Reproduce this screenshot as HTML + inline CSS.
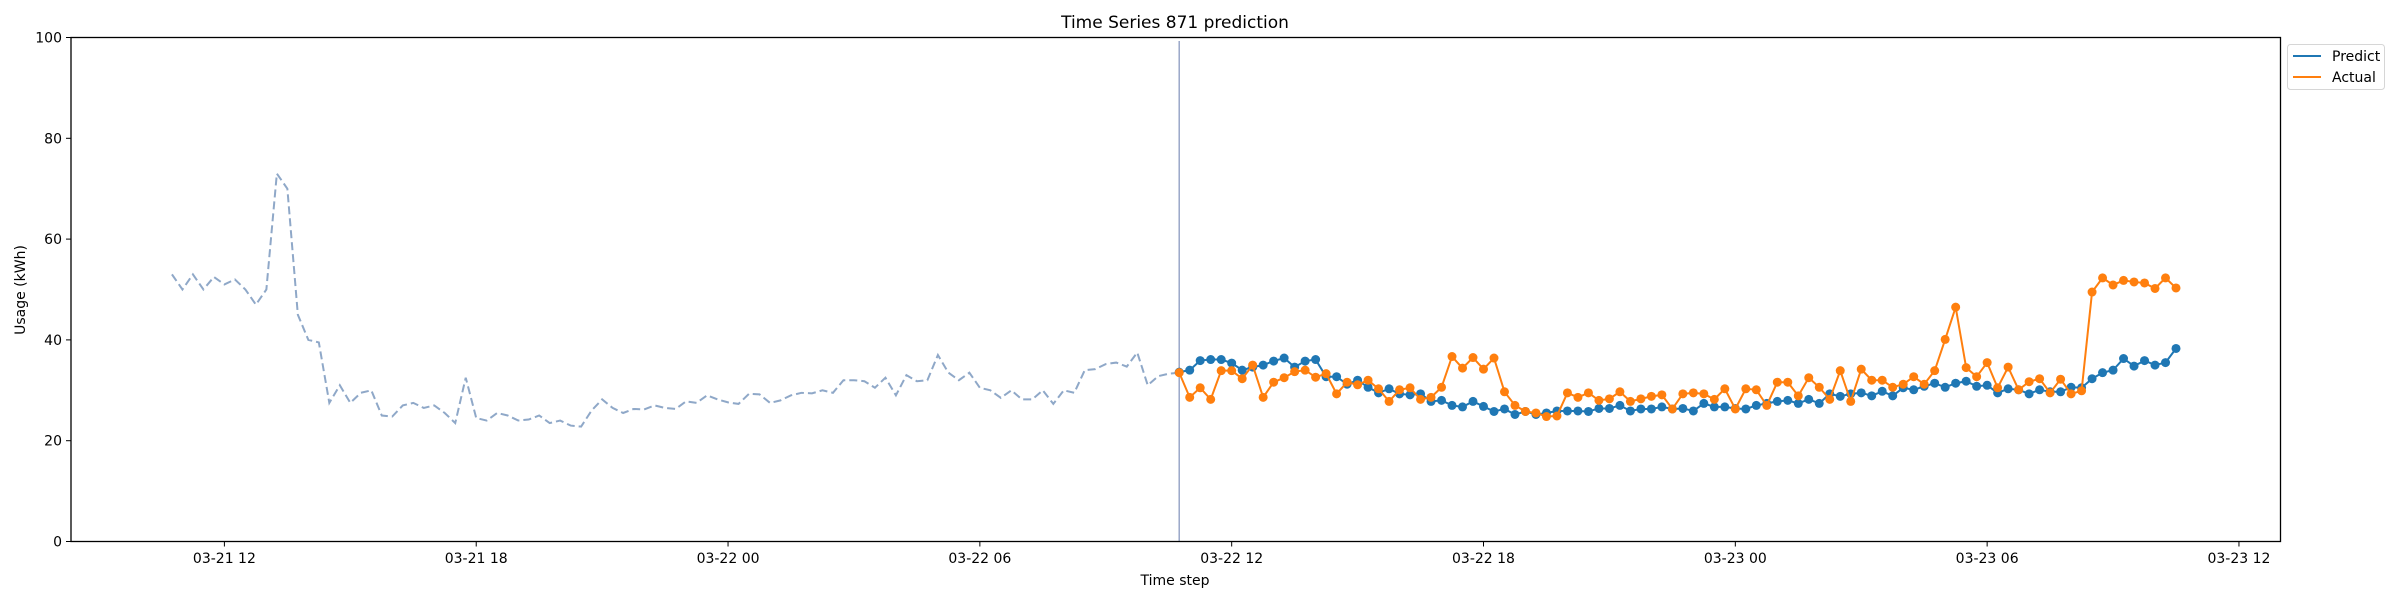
<!DOCTYPE html>
<html><head><meta charset="utf-8"><style>
html,body{margin:0;padding:0;background:#fff;}
svg text{font-family:"DejaVu Sans","Liberation Sans",sans-serif;fill:#000;}
</style></head><body>
<svg id="chart" width="2400" height="600" xmlns="http://www.w3.org/2000/svg">
<rect width="2400" height="600" fill="#fff"/>
<text x="1175" y="28" font-size="17" text-anchor="middle">Time Series 871 prediction</text>
<g id="plot"></g>
<g id="axes"></g>
<text x="1175" y="585" font-size="14" text-anchor="middle">Time step</text>
<text x="25" y="290" font-size="14" text-anchor="middle" transform="rotate(-90 25 290)">Usage (kWh)</text>
<g>
<rect x="2287.5" y="44.5" width="97" height="45" rx="3" fill="#fff" stroke="#d6d6d6"/>
<line x1="2293" y1="56" x2="2321" y2="56" stroke="#1f77b4" stroke-width="2"/>
<text x="2332" y="61" font-size="14">Predict</text>
<line x1="2293" y1="77" x2="2321" y2="77" stroke="#ff7f0e" stroke-width="2"/>
<text x="2332" y="82" font-size="14">Actual</text>
</g>
</svg>
<script>
// hours relative to 03-21 12:00
const historyStartHour = -1.25;
const forecastStartHour = 22.75;
const stepHours = 0.25;
const historyValues = [53,50,53,50,52.5,51,52,50,47,50,73,70,45,40,39.5,27.5,31,27.5,29.5,30,25,24.8,27,27.5,26.5,27,25.5,23.5,32.5,24.5,24,25.5,25,24,24.2,25,23.5,24,23,22.8,26,28.2,26.5,25.5,26.3,26.2,27,26.5,26.3,27.8,27.5,29,28.2,27.6,27.3,29.3,29.2,27.5,28,29,29.5,29.4,30,29.5,32,32,31.8,30.5,32.5,29,33,31.8,32,37,33.5,32,33.5,30.5,30,28.5,30,28.2,28.2,30,27.3,30,29.5,34,34.2,35.2,35.5,34.7,37.5,31,32.8,33.3];
const predictValues = [33.6,34,35.9,36.1,36.1,35.4,34,34.6,35,35.8,36.4,34.6,35.8,36.1,32.7,32.7,31.2,32,30.6,29.5,30.3,29.3,29.1,29.3,27.8,28,27,26.7,27.8,26.8,25.8,26.3,25.2,25.8,25.2,25.5,25.9,25.9,25.9,25.8,26.4,26.4,27,25.9,26.3,26.3,26.7,26.3,26.4,25.9,27.4,26.7,26.7,26.4,26.3,27,27.4,27.8,28,27.4,28.2,27.4,29.3,28.8,29.3,29.5,28.9,29.8,28.9,30.5,30.1,30.8,31.4,30.6,31.4,31.8,30.8,31,29.5,30.3,30.1,29.3,30.1,29.7,29.7,30.6,30.5,32.3,33.5,34,36.3,34.8,35.9,35,35.5,38.3];
const actualValues = [33.5,28.6,30.5,28.2,33.9,33.9,32.3,35,28.6,31.6,32.5,33.7,34,32.6,33.3,29.3,31.6,31.1,32,30.3,27.8,30.1,30.5,28.2,28.6,30.6,36.7,34.4,36.5,34.2,36.4,29.7,27,25.8,25.5,24.8,24.9,29.5,28.6,29.5,28,28.3,29.7,27.8,28.3,28.8,29.1,26.3,29.3,29.5,29.3,28.2,30.3,26.3,30.3,30.1,27,31.6,31.6,28.9,32.5,30.6,28.2,33.9,27.8,34.2,32,32,30.6,31.2,32.7,31.2,33.9,40.1,46.5,34.5,32.7,35.5,30.5,34.6,30.1,31.7,32.3,29.5,32.2,29.3,29.9,49.5,52.3,50.9,51.8,51.5,51.3,50.2,52.3,50.3];
const xTickLabels = ["03-21 12","03-21 18","03-22 00","03-22 06","03-22 12","03-22 18","03-23 00","03-23 06","03-23 12"];
const xTickHours = [0,6,12,18,24,30,36,42,48];
const yTickValues = [0,20,40,60,80,100];

const L=71,R=2280.5,T=37.5,B=541.5;
const xScale=h=>224.4+h*41.97;
const yScale=v=>B-(v/100)*(B-T);
const NS="http://www.w3.org/2000/svg";
const plot=document.getElementById('plot'), axes=document.getElementById('axes');
function mk(tag,attrs,parent){const e=document.createElementNS(NS,tag);for(const k in attrs)e.setAttribute(k,attrs[k]);parent.appendChild(e);return e;}

// forecast start line
const vl=mk('line',{x1:xScale(forecastStartHour),x2:xScale(forecastStartHour),y1:41,y2:B,stroke:'#9aa8c8','stroke-width':1.5},plot);



// history
const histPts=historyValues.map((v,i)=>[xScale(historyStartHour+i*stepHours),yScale(v)]);
histPts.push([xScale(forecastStartHour),yScale(actualValues[0])]);
const hl=mk('polyline',{points:histPts.map(p=>p.join(',')).join(' '),fill:'none',stroke:'#8fa8c8','stroke-width':2,'stroke-dasharray':'8,4'},plot);



function series(vals,color,name){
  const g=mk('g',{},plot);
  
  
  const pts=vals.map((v,i)=>[xScale(forecastStartHour+i*stepHours),yScale(v)]);
  mk('polyline',{points:pts.map(p=>p.join(',')).join(' '),fill:'none',stroke:color,'stroke-width':2},g);
  pts.forEach(p=>{
    const c=mk('circle',{cx:p[0],cy:p[1],r:4.5,fill:color},g);
    
    
  });
}
series(predictValues,'#1f77b4','predict');
series(actualValues,'#ff7f0e','actual');

// frame
const fr=mk('rect',{x:L,y:T,width:R-L,height:B-T,fill:'none',stroke:'#000','stroke-width':1.3},axes);


xTickHours.forEach((h,i)=>{
  const x=xScale(h);
  mk('line',{x1:x,x2:x,y1:B,y2:B+5,stroke:'#000','stroke-width':1},axes);
  const t=mk('text',{x:x,y:563,'font-size':14,'text-anchor':'middle'},axes);
  t.textContent=xTickLabels[i];
  
  
});
yTickValues.forEach(v=>{
  const y=yScale(v);
  mk('line',{x1:L-5,x2:L,y1:y,y2:y,stroke:'#000','stroke-width':1},axes);
  const t=mk('text',{x:62,y:y+5,'font-size':14,'text-anchor':'end'},axes);
  t.textContent=String(v);
  
  
});
</script>
</body></html>
